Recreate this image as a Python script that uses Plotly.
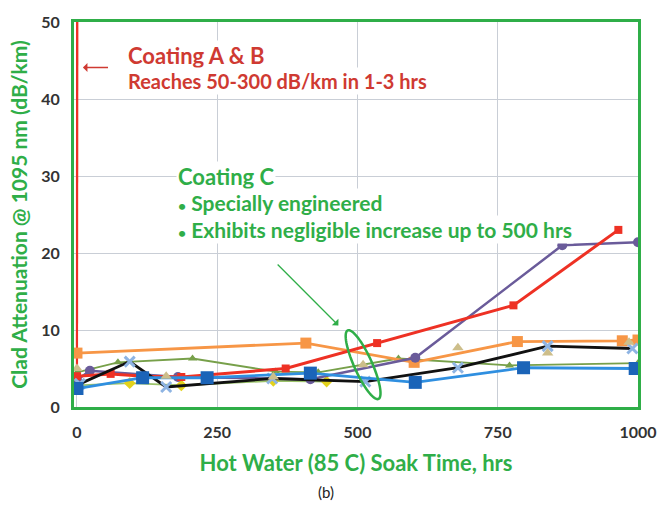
import numpy as np
import plotly.graph_objects as go

# Hot-water soak: clad attenuation at 1095 nm versus soak time
coating_ab_x = [0, 2]
coating_ab_y = [4.0, 300]
coating_ab2_x = [0, 3]
coating_ab2_y = [8.0, 300]

red_x = [0, 60, 120, 186, 372, 535, 778, 965]
red_y = [4.0, 4.3, 4.0, 3.9, 5.0, 8.3, 13.2, 23.0]

orange_x = [0, 408, 601, 785, 972, 1000]
orange_y = [7.0, 8.3, 5.8, 8.5, 8.6, 8.7]

purple_x = [0, 23, 180, 416, 603, 865, 1000]
purple_y = [3.5, 4.7, 3.9, 3.6, 6.4, 21.0, 21.4]

olive_x = [0, 73, 206, 354, 430, 573, 771, 1000]
olive_y = [4.5, 5.8, 6.3, 4.6, 4.5, 6.3, 5.4, 5.7]

tan_x = [0, 159, 350, 510, 679, 839, 984]
tan_y = [5.0, 4.0, 3.9, 5.5, 7.7, 7.0, 8.4]

yellow_x = [0, 94, 186, 350, 445]
yellow_y = [2.8, 3.1, 2.8, 3.4, 3.3]

xmark_x = [5, 94, 159, 348, 514, 679, 839, 990]
xmark_y = [3.0, 5.9, 2.6, 3.7, 3.3, 5.1, 7.9, 7.6]

blue_x = [0, 117, 232, 416, 603, 796, 995]
blue_y = [2.4, 3.8, 3.8, 4.4, 3.2, 5.1, 5.0]

x_ticks = [0, 250, 500, 750, 1000]
y_ticks = [0, 10, 20, 30, 40, 50]

GREEN = "#2fae48"
RED_TXT = "#cf3a32"
FONT = "Lato"

fig = go.Figure()

def line(x, y, color, width=2.5, symbol=None, msize=8, mcolor=None, mode="lines+markers"):
    fig.add_trace(go.Scatter(
        x=x, y=y, mode=mode,
        line=dict(color=color, width=width),
        marker=dict(symbol=symbol or "circle", size=msize, color=mcolor or color,
                    line=dict(width=0)),
        showlegend=False, cliponaxis=True))

line(coating_ab2_x, coating_ab2_y, "#e2574c", width=2, mode="lines")
line(coating_ab_x, coating_ab_y, "#ee3124", width=2.2, mode="lines")
line(olive_x, olive_y, "#77a04a", width=1.8, symbol="triangle-up", msize=8)
line(yellow_x, yellow_y, "#9bc36a", width=1.8, symbol="diamond", msize=9, mcolor="#e3d21c")
line(orange_x, orange_y, "#f79646", width=2.8, symbol="square", msize=11)
line(purple_x, purple_y, "#6a5b9a", width=2.5, symbol="circle", msize=10)
line(red_x, red_y, "#ee3124", width=3, symbol="square", msize=8)
line(xmark_x, xmark_y, "#111111", width=2.8, symbol="x-thin", msize=10, mcolor="#8eb4e3")
fig.data[-1].marker.line = dict(width=3, color="#8eb4e3")
line(blue_x, blue_y, "#2f8fe0", width=2.8, symbol="square", msize=13, mcolor="#1b64b8")
line(tan_x, tan_y, "#cdbe8a", mode="markers", symbol="triangle-up", msize=10)

# pixel scale of the plot area, used for the tilted ellipse
X0, X1 = -5.3, 1000
Y0, Y1 = 0, 50
L, R, T, B = 74, 28, 17, 100
W, H = 669, 507
px_x = (W - L - R) / (X1 - X0)
px_y = (H - T - B) / (Y1 - Y0)

cx, cy = 510, 5.5
a, b = 38, 9          # semi-axes in pixels
tilt = np.deg2rad(24)
th = np.linspace(0, 2 * np.pi, 73)
ex = b * np.cos(th) * np.cos(tilt) - a * np.sin(th) * np.sin(tilt)
ey = b * np.cos(th) * np.sin(tilt) + a * np.sin(th) * np.cos(tilt)
path = "M " + " L ".join(f"{cx + dx / px_x:.2f},{cy + dy / px_y:.3f}" for dx, dy in zip(ex, ey)) + " Z"
fig.add_shape(type="path", path=path, xref="x", yref="y",
              line=dict(color=GREEN, width=2.5))

ann = []
def text(x, y, s, color, size, bg="white"):
    ann.append(dict(x=x, y=y, xref="x", yref="y", text=s, showarrow=False,
                    xanchor="left", yanchor="middle", bgcolor=bg, borderpad=1,
                    font=dict(family=FONT, size=size, color=color, weight="bold")))

text(88, 45.6, "Coating A &amp; B", RED_TXT, 22)
text(88, 42.3, "Reaches 50-300 dB/km in 1-3 hrs", RED_TXT, 20)
text(176, 29.9, "Coating C", GREEN, 22)
text(176, 26.5, "<span style='font-size:14px'>•</span> Specially engineered", GREEN, 21)
text(176, 23.1, "<span style='font-size:14px'>•</span> Exhibits negligible increase up to 500 hrs", GREEN, 21)

# small red arrow pointing at the vertical A & B traces
ann.append(dict(x=10.6, y=44.1, ax=58, ay=44.1, xref="x", yref="y", axref="x", ayref="y",
                showarrow=True, arrowhead=1, arrowsize=1, arrowwidth=1.5,
                arrowcolor=RED_TXT, text=""))
# green arrow pointing at the circled region
ann.append(dict(x=466, y=10.6, ax=355, ay=18.7, xref="x", yref="y", axref="x", ayref="y",
                showarrow=True, arrowhead=1, arrowsize=1.2, arrowwidth=1.3,
                arrowcolor=GREEN, text=""))
# panel label
ann.append(dict(x=(327 - L) / (W - L - R), y=(H - 493 - B) / (H - T - B),
                xref="paper", yref="paper", xanchor="center", yanchor="middle",
                text="(b)", showarrow=False,
                font=dict(family=FONT, size=15, color="#222222")))

fig.update_layout(
    annotations=ann,
    width=W, height=H,
    margin=dict(l=L, r=R, t=T, b=B),
    paper_bgcolor="white", plot_bgcolor="white",
    font=dict(family=FONT),
    xaxis=dict(range=[X0, X1], tickvals=x_ticks, ticktext=[str(v) for v in x_ticks],
               showgrid=True, gridcolor="#c9ced6", gridwidth=1, zeroline=False,
               showline=True, mirror=True, linecolor=GREEN, linewidth=3,
               ticks="", ticklabelstandoff=9,
               tickfont=dict(family=FONT, size=16, color="#333333", weight="bold"),
               title=dict(text="Hot Water (85 C) Soak Time, hrs", standoff=16,
                          font=dict(family=FONT, size=22, color=GREEN, weight="bold"))),
    yaxis=dict(range=[Y0, Y1], tickvals=y_ticks, ticktext=[str(v) for v in y_ticks],
               showgrid=True, gridcolor="#c9ced6", gridwidth=1, zeroline=False,
               showline=True, mirror=True, linecolor=GREEN, linewidth=3,
               ticks="", ticklabelstandoff=8,
               tickfont=dict(family=FONT, size=16, color="#333333", weight="bold"),
               title=dict(text="Clad Attenuation @ 1095 nm (dB/km)", standoff=8,
                          font=dict(family=FONT, size=21, color=GREEN, weight="bold"))),
)

fig.write_html("out.html")
